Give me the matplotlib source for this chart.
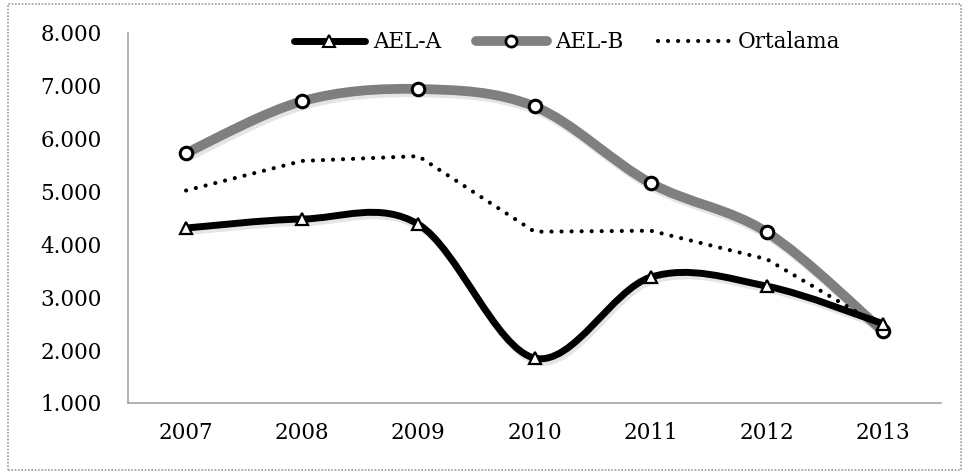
import matplotlib.pyplot as plt
import matplotlib.patheffects as pe
from matplotlib.path import Path
from matplotlib.patches import PathPatch, Rectangle
from matplotlib.lines import Line2D
import numpy as np

plt.rcParams["font.family"] = "DejaVu Serif"

years = ["2007", "2008", "2009", "2010", "2011", "2012", "2013"]
ael_a = [4.31, 4.48, 4.38, 1.85, 3.38, 3.21, 2.50]
ael_b = [5.73, 6.71, 6.94, 6.61, 5.16, 4.23, 2.36]
ortalama = [5.02, 5.58, 5.67, 4.24, 4.26, 3.72, 2.43]


def smooth_path(x, y):
	# excel-like smoothed line: cubic bezier, catmull-rom style control points
	pts = np.column_stack([x, y]).astype(float)
	n = len(pts)
	verts = [pts[0]]
	codes = [Path.MOVETO]
	for i in range(n - 1):
		p0 = pts[max(i - 1, 0)]
		p1 = pts[i]
		p2 = pts[i + 1]
		p3 = pts[min(i + 2, n - 1)]
		c1 = p1 + (p2 - p0) / 6
		c2 = p2 - (p3 - p1) / 6
		verts += [c1, c2, p2]
		codes += [Path.CURVE4] * 3
	return Path(verts, codes)


shadow = [pe.SimpleLineShadow(offset=(1.5, -2.5), alpha=0.1), pe.Normal()]
dots = (0, (0.01, 2.4))

fig = plt.figure(figsize=(9.64, 4.72), dpi=100)
ax = fig.add_axes([0.1328, 0.1462, 0.8434, 0.7839])

x = np.arange(len(years))

ax.add_patch(PathPatch(smooth_path(x, ael_b), facecolor="none", edgecolor="#7f7f7f",
	lw=7, capstyle="round", path_effects=shadow, zorder=2))
ax.add_patch(PathPatch(smooth_path(x, ael_a), facecolor="none", edgecolor="black",
	lw=5, capstyle="round", path_effects=shadow, zorder=3))
ax.plot(x, ortalama, color="black", lw=3, linestyle=dots,
	dash_capstyle="round", zorder=4)

ax.plot(x, ael_b, linestyle="none", marker="o", ms=9, mfc="white", mec="black",
	mew=2.2, zorder=5)
ax.plot(x, ael_a, linestyle="none", marker="^", ms=9, mfc="white", mec="black",
	mew=1.6, zorder=6)

ax.set_xlim(-0.5, len(years) - 0.5)
ax.set_ylim(1, 8)
ax.set_xticks(x)
ax.set_xticklabels(years)
ax.set_yticks(range(1, 9))
ax.set_yticklabels([f"{v}.000" for v in range(1, 9)])
ax.tick_params(axis="both", length=0, labelsize=15.5)
ax.tick_params(axis="y", pad=19)
ax.tick_params(axis="x", pad=14)

for s in ["top", "right"]:
	ax.spines[s].set_visible(False)
for s in ["left", "bottom"]:
	ax.spines[s].set_color("#a6a6a6")
	ax.spines[s].set_linewidth(1.2)

handles = [
	Line2D([], [], color="black", lw=5, solid_capstyle="round", marker="^", ms=8,
		mfc="white", mec="black", mew=1.5),
	Line2D([], [], color="#7f7f7f", lw=7, solid_capstyle="round", marker="o", ms=8,
		mfc="white", mec="black", mew=2),
	Line2D([], [], color="black", lw=3, linestyle=dots, dash_capstyle="round"),
]
ax.legend(handles, ["AEL-A", "AEL-B", "Ortalama"], loc="center", bbox_to_anchor=(0.54, 0.975),
	ncol=3, frameon=False, fontsize=15.5, handlelength=3.3, handletextpad=0.4,
	columnspacing=1.6, borderaxespad=0)

fig.patches.append(Rectangle((8 / 964, 2 / 472), 953 / 964, 466 / 472, transform=fig.transFigure,
	fill=False, edgecolor="#9a9a9a", lw=1.2, linestyle=(0, (1, 1))))

fig.savefig("out.png", dpi=100)
